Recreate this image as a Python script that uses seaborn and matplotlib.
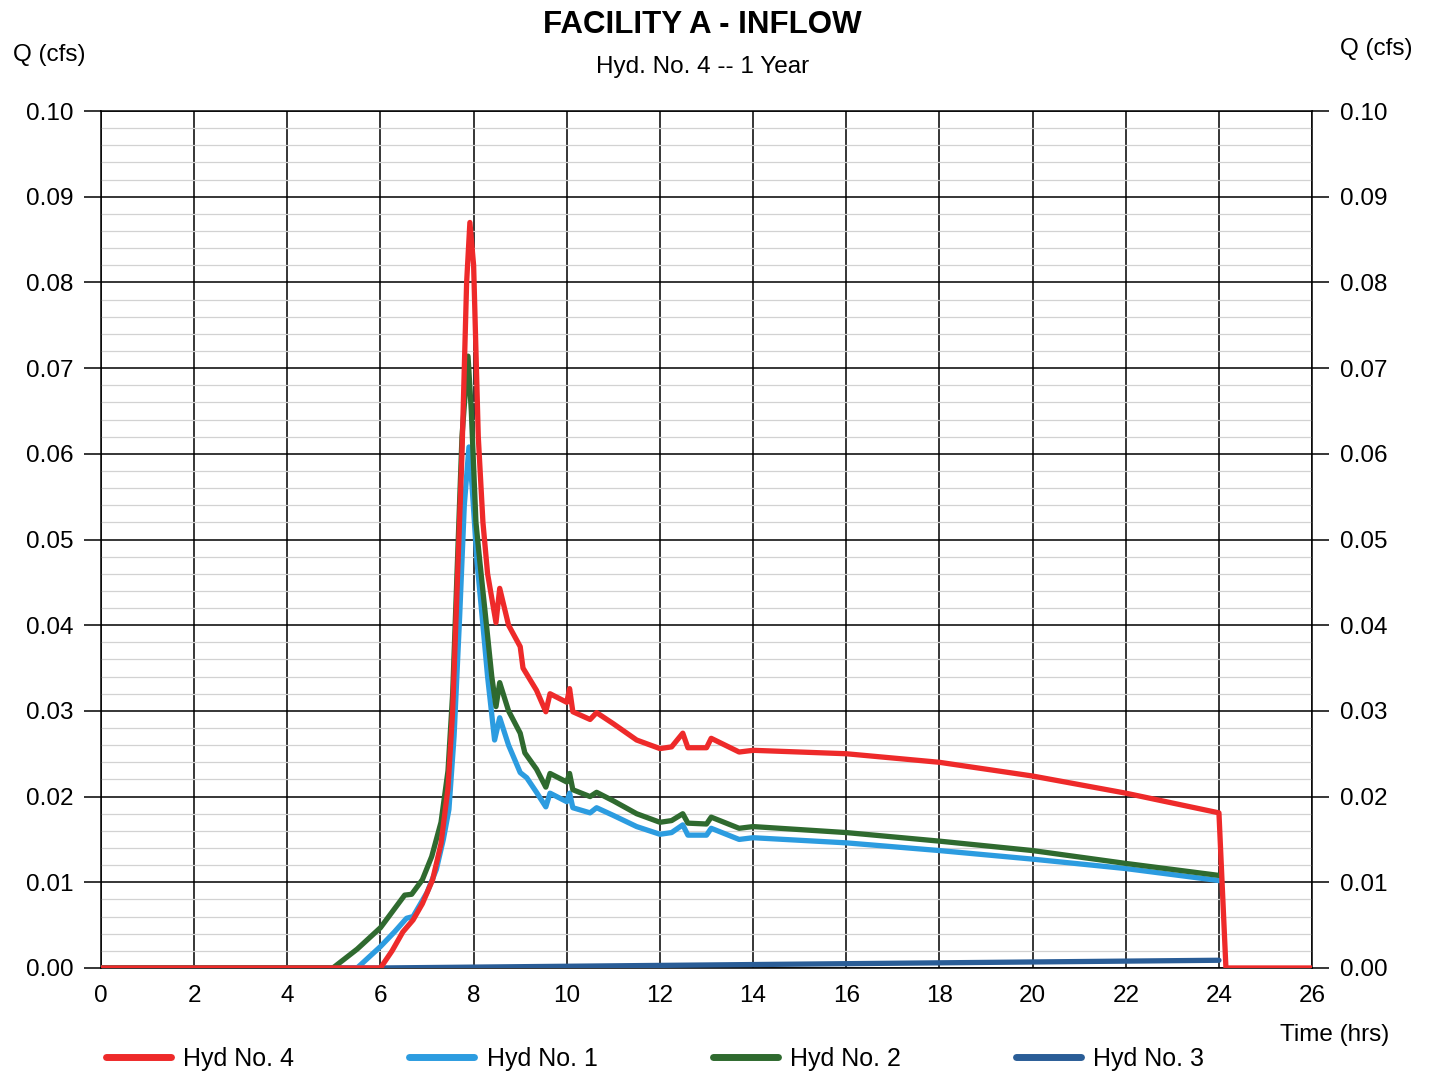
import pandas as pd
import seaborn as sns
import matplotlib.pyplot as plt
from matplotlib.lines import Line2D
from matplotlib.ticker import MultipleLocator, FormatStrFormatter

sns.set_theme(style="white")
plt.rcParams['font.family'] = ['Liberation Sans', 'DejaVu Sans']
plt.rcParams['text.color'] = 'black'
plt.rcParams['xtick.color'] = 'black'
plt.rcParams['ytick.color'] = 'black'

# Hyd No. 4 (red)
t4 = [0, 6.0, 6.25, 6.48, 6.7, 6.9, 7.12, 7.3, 7.45, 7.55, 7.65, 7.75, 7.85, 7.92, 8.0, 8.1,
      8.2, 8.3, 8.48, 8.56, 8.75, 9.0, 9.06, 9.35, 9.55, 9.64, 10.0, 10.06, 10.13, 10.5,
      10.64, 11.0, 11.5, 12.0, 12.25, 12.49, 12.6, 13.0, 13.1, 13.7, 14.0, 16.0, 18.0, 20.0,
      22.0, 24.0, 24.15, 26.0]
q4 = [0, 0, 0.002, 0.0042, 0.0056, 0.0075, 0.0103, 0.0145, 0.021, 0.03, 0.045, 0.06, 0.08,
      0.087, 0.082, 0.062, 0.052, 0.046, 0.0403, 0.0443, 0.040, 0.0375, 0.035, 0.0324, 0.0299,
      0.032, 0.031, 0.0326, 0.0299, 0.029, 0.0298, 0.0285, 0.0266, 0.0256, 0.0258, 0.0274,
      0.0257, 0.0257, 0.0268, 0.0252, 0.0254, 0.025, 0.024, 0.0224, 0.0204, 0.0181, 0, 0]

# Hyd No. 1 (light blue)
t1 = [0, 5.5, 6.0, 6.3, 6.56, 6.7, 7.0, 7.2, 7.35, 7.47, 7.58, 7.7, 7.8, 7.9, 7.97, 8.07,
      8.2, 8.3, 8.45, 8.56, 8.75, 9.0, 9.14, 9.35, 9.55, 9.64, 10.0, 10.06, 10.13, 10.5,
      10.64, 11.0, 11.5, 12.0, 12.25, 12.49, 12.6, 13.0, 13.1, 13.7, 14.0, 16.0, 18.0, 20.0,
      22.0, 24.0]
q1 = [0, 0, 0.0025, 0.0042, 0.0058, 0.006, 0.0088, 0.0115, 0.015, 0.0185, 0.027, 0.041,
      0.054, 0.0608, 0.056, 0.0476, 0.040, 0.034, 0.0266, 0.0292, 0.026, 0.0228, 0.0222,
      0.0205, 0.0188, 0.0204, 0.0194, 0.0204, 0.0187, 0.0181, 0.0187, 0.0178, 0.0165, 0.0156,
      0.0158, 0.0167, 0.0155, 0.0155, 0.0163, 0.0150, 0.0152, 0.0146, 0.0137, 0.0127, 0.0116,
      0.0102]

# Hyd No. 2 (green)
t2 = [0, 4.98, 5.5, 6.0, 6.52, 6.67, 6.9, 7.1, 7.3, 7.45, 7.55, 7.65, 7.75, 7.88, 7.95, 8.05,
      8.13, 8.28, 8.39, 8.48, 8.56, 8.75, 9.0, 9.1, 9.35, 9.55, 9.64, 10.0, 10.06, 10.13, 10.5,
      10.64, 11.0, 11.5, 12.0, 12.25, 12.49, 12.6, 13.0, 13.1, 13.7, 14.0, 16.0, 18.0, 20.0,
      22.0, 24.0]
q2 = [0, 0, 0.0022, 0.0047, 0.0085, 0.0086, 0.0103, 0.013, 0.017, 0.023, 0.032, 0.047, 0.062,
      0.0714, 0.065, 0.052, 0.0476, 0.0398, 0.034, 0.0305, 0.0333, 0.030, 0.0274, 0.0251,
      0.0232, 0.0211, 0.0227, 0.0217, 0.0227, 0.0208, 0.020, 0.0205, 0.0195, 0.018, 0.017,
      0.0172, 0.018, 0.0169, 0.0168, 0.0176, 0.0163, 0.0165, 0.0158, 0.0148, 0.0137, 0.0122,
      0.0108]

# Hyd No. 3 (dark blue)
t3 = [0, 6.0, 24.0]
q3 = [0, 0, 0.0009]

colors = {"Hyd No. 3": "#2a5d97", "Hyd No. 1": "#2c9ce0",
          "Hyd No. 2": "#2f6a2f", "Hyd No. 4": "#ee2a2a"}

frames = []
for name, t, q in [("Hyd No. 3", t3, q3), ("Hyd No. 1", t1, q1),
                   ("Hyd No. 2", t2, q2), ("Hyd No. 4", t4, q4)]:
    frames.append(pd.DataFrame({"time": t, "q": q, "hyd": name}))
df = pd.concat(frames, ignore_index=True)

fig = plt.figure(figsize=(14.34, 10.76), dpi=100)
ax = fig.add_axes([0.0704, 0.1004, 0.8446, 0.7964])

for name in ["Hyd No. 3", "Hyd No. 1", "Hyd No. 2", "Hyd No. 4"]:
    sns.lineplot(data=df[df["hyd"] == name], x="time", y="q", color=colors[name],
                 lw=3.8, sort=False, estimator=None, ax=ax, legend=False, zorder=3)

ax.set_xlim(0, 26)
ax.set_ylim(0, 0.10)
ax.xaxis.set_major_locator(MultipleLocator(2))
ax.yaxis.set_major_locator(MultipleLocator(0.01))
ax.yaxis.set_minor_locator(MultipleLocator(0.002))
ax.yaxis.set_major_formatter(FormatStrFormatter('%.2f'))
ax.grid(which='major', color='black', lw=1.1)
ax.grid(which='minor', axis='y', color='#d2d2d2', lw=0.9)
for s in ax.spines.values():
    s.set_color('black')
    s.set_linewidth(1.1)
ax.set_xlabel("")
ax.set_ylabel("")
ax.tick_params(axis='y', which='major', left=True, right=True, labelright=True,
               length=12, width=1.1, color='black', pad=8, labelsize=17.5)
ax.tick_params(axis='y', which='minor', length=0)
ax.tick_params(axis='x', length=0, pad=12, labelsize=17.5)

fig.text(0.49, 0.977, "FACILITY A - INFLOW", ha='center', va='center',
         fontsize=22.5, fontweight='bold')
fig.text(0.49, 0.938, "Hyd. No. 4 -- 1 Year", ha='center', va='center', fontsize=17.5)
fig.text(0.034, 0.949, "Q (cfs)", ha='center', va='center', fontsize=17.5)
fig.text(0.960, 0.954, "Q (cfs)", ha='center', va='center', fontsize=17.5)
fig.text(0.931, 0.038, "Time (hrs)", ha='center', va='center', fontsize=17.5)

handles = [Line2D([0], [0], color=colors[n], lw=5)
           for n in ["Hyd No. 4", "Hyd No. 1", "Hyd No. 2", "Hyd No. 3"]]
fig.legend(handles, ["Hyd No. 4", "Hyd No. 1", "Hyd No. 2", "Hyd No. 3"],
           loc='center left', bbox_to_anchor=(0.058, 0.016), ncol=4, frameon=False,
           fontsize=18, handlelength=2.6, handletextpad=0.5, columnspacing=4.6)

fig.savefig("out.png", dpi=100)
